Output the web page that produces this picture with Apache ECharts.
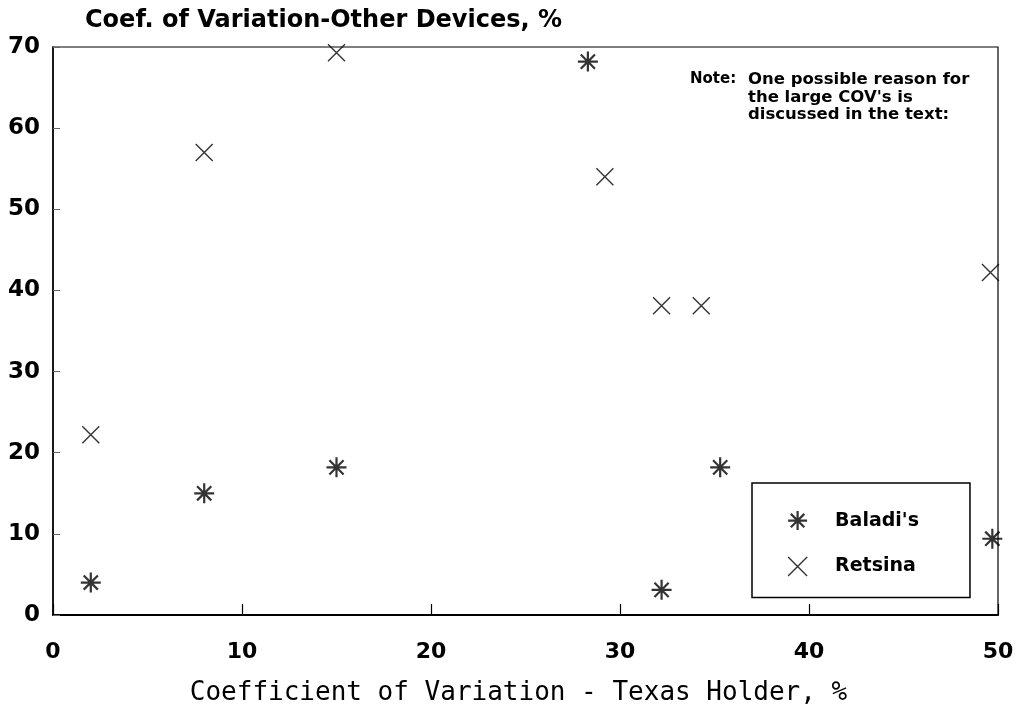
<!DOCTYPE html>
<html>
<head>
<meta charset="utf-8">
<script src="https://cdn.jsdelivr.net/npm/echarts@6/dist/echarts.min.js"></script>
<style>
  html, body { margin: 0; padding: 0; background: #fff; }
  #chart { width: 1036px; height: 708px; }
</style>
</head>
<body>
<div id="chart"></div>
<script>
// Coefficient of variation: Texas holder (x) vs. other devices (y), %
const baladiX = [2, 8, 15, 28.3, 32.2, 35.3, 49.7];
const baladiY = [4, 15, 18.2, 68.2, 3.1, 18.2, 9.4];
const retsinaX = [2, 8, 15, 29.2, 32.2, 34.3, 49.6];
const retsinaY = [22.2, 57, 69.3, 54, 38.1, 38.1, 42.2];
const xTicks = [0, 10, 20, 30, 40, 50];
const yTicks = [0, 10, 20, 30, 40, 50, 60, 70];
const seriesNames = ["Baladi's", 'Retsina'];
const titleText = 'Coef. of Variation-Other Devices, %';
const xAxisTitle = 'Coefficient of Variation - Texas Holder, %';
const noteLead = 'Note:';
const noteLines = ['One possible reason for', "the large COV's is", 'discussed in the text:'];

const ASTERISK = 'path://M-10 0 L10 0 M0 -10 L0 10 M-7.1 -7.1 L7.1 7.1 M-7.1 7.1 L7.1 -7.1';
const CROSS = 'path://M-10 -10 L10 10 M-10 10 L10 -10';

const pair = (xs, ys) => xs.map((x, i) => [x, ys[i]]);
const boldFont = 'DejaVu Sans';

const chart = echarts.init(document.getElementById('chart'), null, { renderer: 'canvas' });
chart.setOption({
  animation: false,
  backgroundColor: '#fff',
  title: {
    text: titleText,
    left: 80, top: 4,
    textStyle: { fontFamily: boldFont, fontWeight: 'bold', fontSize: 24, color: '#000' }
  },
  grid: {
    left: 53, right: 38, top: 47, bottom: 93,
    outerBoundsMode: 'none',
    show: true, borderColor: '#000', borderWidth: 1.2, backgroundColor: 'transparent'
  },
  xAxis: {
    type: 'value', min: xTicks[0], max: xTicks[xTicks.length - 1], interval: 10,
    name: xAxisTitle, nameLocation: 'middle', nameGap: 65,
    nameTextStyle: { fontFamily: 'DejaVu Sans Mono', fontSize: 26, color: '#000', padding: [0, 14, 0, 0] },
    axisLine: { show: true, lineStyle: { color: '#000', width: 2 } },
    axisTick: { show: true, inside: true, length: 11, lineStyle: { color: '#000', width: 1.2 } },
    axisLabel: { margin: 26, fontFamily: boldFont, fontWeight: 'bold', fontSize: 22, color: '#000',
      formatter: v => xTicks.includes(v) ? String(v) : '' },
    splitLine: { show: false }
  },
  yAxis: {
    type: 'value', min: yTicks[0], max: yTicks[yTicks.length - 1], interval: 10,
    axisLine: { show: true, lineStyle: { color: '#000', width: 1.5 } },
    axisTick: { show: true, inside: true, length: 7, lineStyle: { color: '#666', width: 1 } },
    axisLabel: { margin: 13, fontFamily: boldFont, fontWeight: 'bold', fontSize: 23, color: '#000',
      formatter: v => yTicks.includes(v) ? String(v) : '' },
    splitLine: { show: false }
  },
  legend: {
    orient: 'vertical',
    left: 752, top: 483,
    padding: [27, 51, 21, 35],
    itemGap: 25,
    itemWidth: 19, itemHeight: 19,
    borderColor: '#000', borderWidth: 1.5, backgroundColor: '#fff',
    textStyle: { fontFamily: boldFont, fontWeight: 'bold', fontSize: 19, color: '#000', padding: [0, 0, 0, 23] },
    data: [
      { name: seriesNames[0], icon: ASTERISK, itemStyle: { color: '#000', borderColor: '#000', borderWidth: 2.2 } },
      { name: seriesNames[1], icon: CROSS, itemStyle: { color: '#000', borderColor: '#000', borderWidth: 1.4 } }
    ]
  },
  graphic: [
    {
      type: 'text', left: 690, top: 72, z: 10,
      style: { text: noteLead, fontFamily: boldFont, fontWeight: 'bold', fontSize: 15, fill: '#000' }
    },
    {
      type: 'text', left: 748, top: 71, z: 10,
      style: { text: noteLines.join('\n'), fontFamily: boldFont, fontWeight: 'bold', fontSize: 16.5,
        lineHeight: 17.5, fill: '#000' }
    }
  ],
  series: [
    {
      name: seriesNames[0], type: 'scatter', symbol: ASTERISK, symbolSize: 20,
      itemStyle: { color: '#000', borderColor: '#000', borderWidth: 2.2 },
      data: pair(baladiX, baladiY)
    },
    {
      name: seriesNames[1], type: 'scatter', symbol: CROSS, symbolSize: 17,
      itemStyle: { color: '#000', borderColor: '#000', borderWidth: 1.4 },
      data: pair(retsinaX, retsinaY)
    }
  ]
});
</script>
</body>
</html>
